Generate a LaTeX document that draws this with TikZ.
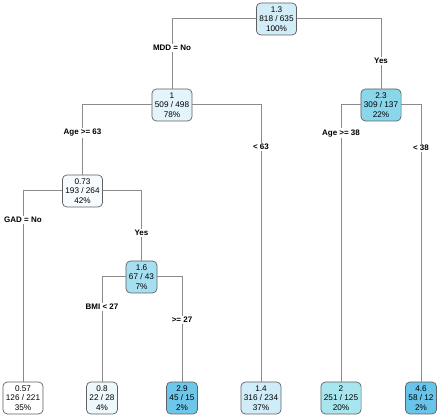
\documentclass[tikz,border=0pt]{standalone}
\usepackage{fontspec}
\setmainfont{Liberation Sans}
\usepackage{tikz}
\usetikzlibrary{shapes.misc}
\definecolor{frame}{HTML}{606060}
\definecolor{wire}{HTML}{8A8A8A}
\definecolor{fillA}{HTML}{D3EDF8}
\definecolor{fillB}{HTML}{E3F4FB}
\definecolor{fillC}{HTML}{8AD6EA}
\definecolor{fillD}{HTML}{F6FBFD}
\definecolor{fillE}{HTML}{A6E0F0}
\definecolor{fillF}{HTML}{FFFFFF}
\definecolor{fillG}{HTML}{EDF8FC}
\definecolor{fillH}{HTML}{6CC7EB}
\definecolor{fillI}{HTML}{D0ECF9}
\definecolor{fillJ}{HTML}{A8E6EF}
\definecolor{fillK}{HTML}{68C4EA}
\tikzstyle{treenode} = [rectangle, rounded corners=4.5pt, minimum height=32pt,
    inner xsep=3pt, inner ysep=2pt, align=center, draw=frame, line width=0.7pt,
    font=\fontsize{8.2}{9.4}\selectfont]
\tikzstyle{edge} = [draw=wire, line width=1pt]
\tikzstyle{rule} = [fill=white, inner sep=1.2pt, font=\fontsize{8}{9}\selectfont\bfseries]

\begin{document}
\begin{tikzpicture}[x=1pt, y=1pt]
                \useasboundingbox (0,0) rectangle (440,418);

                \node (root) [treenode, fill=fillA] at (276.5,399) {1.3\\818 / 635\\100\%};
                \node (mdd) [treenode, fill=fillB] at (172,313) {1\\509 / 498\\78\%};
                \node (right) [treenode, fill=fillC] at (381,313) {2.3\\309 / 137\\22\%};
                \node (age) [treenode, fill=fillD] at (82.5,227) {0.73\\193 / 264\\42\%};
                \node (gad) [treenode, fill=fillE] at (141.5,141) {1.6\\67 / 43\\7\%};

                \node (leafa) [treenode, fill=fillF] at (23,20) {0.57\\126 / 221\\35\%};
                \node (leafb) [treenode, fill=fillG] at (102,20) {0.8\\22 / 28\\4\%};
                \node (leafc) [treenode, fill=fillH] at (182,20) {2.9\\45 / 15\\2\%};
                \node (leafd) [treenode, fill=fillI] at (261,20) {1.4\\316 / 234\\37\%};
                \node (leafe) [treenode, fill=fillJ] at (341,20) {2\\251 / 125\\20\%};
                \node (leaff) [treenode, fill=fillK] at (421,20) {4.6\\58 / 12\\2\%};

                \draw [edge] (root.west) -| (mdd.north) node[rule, pos=0.707] {MDD = No};
                \draw [edge] (root.east) -| (right.north) node[rule, pos=0.8] {Yes};
                \draw [edge] (mdd.west) -| (age.north) node[rule, pos=0.7] {Age >= 63};
                \draw [edge] (mdd.east) -| (leafd.north) node[rule, pos=0.576] {< 63};
                \draw [edge] (right.west) -| (leafe.north) node[rule, pos=0.551] {Age >= 38};
                \draw [edge] (right.east) -| (leaff.north) node[rule, pos=0.578] {< 38};
                \draw [edge] (age.west) -| (leafa.north) node[rule, pos=0.576] {GAD = No};
                \draw [edge] (age.east) -| (gad.north) node[rule, pos=0.8] {Yes};
                \draw [edge] (gad.west) -| (leafb.north) node[rule, pos=0.643] {BMI < 27};
                \draw [edge] (gad.east) -| (leafc.north) node[rule, pos=0.705] {>= 27};
            \end{tikzpicture}
\end{document}
